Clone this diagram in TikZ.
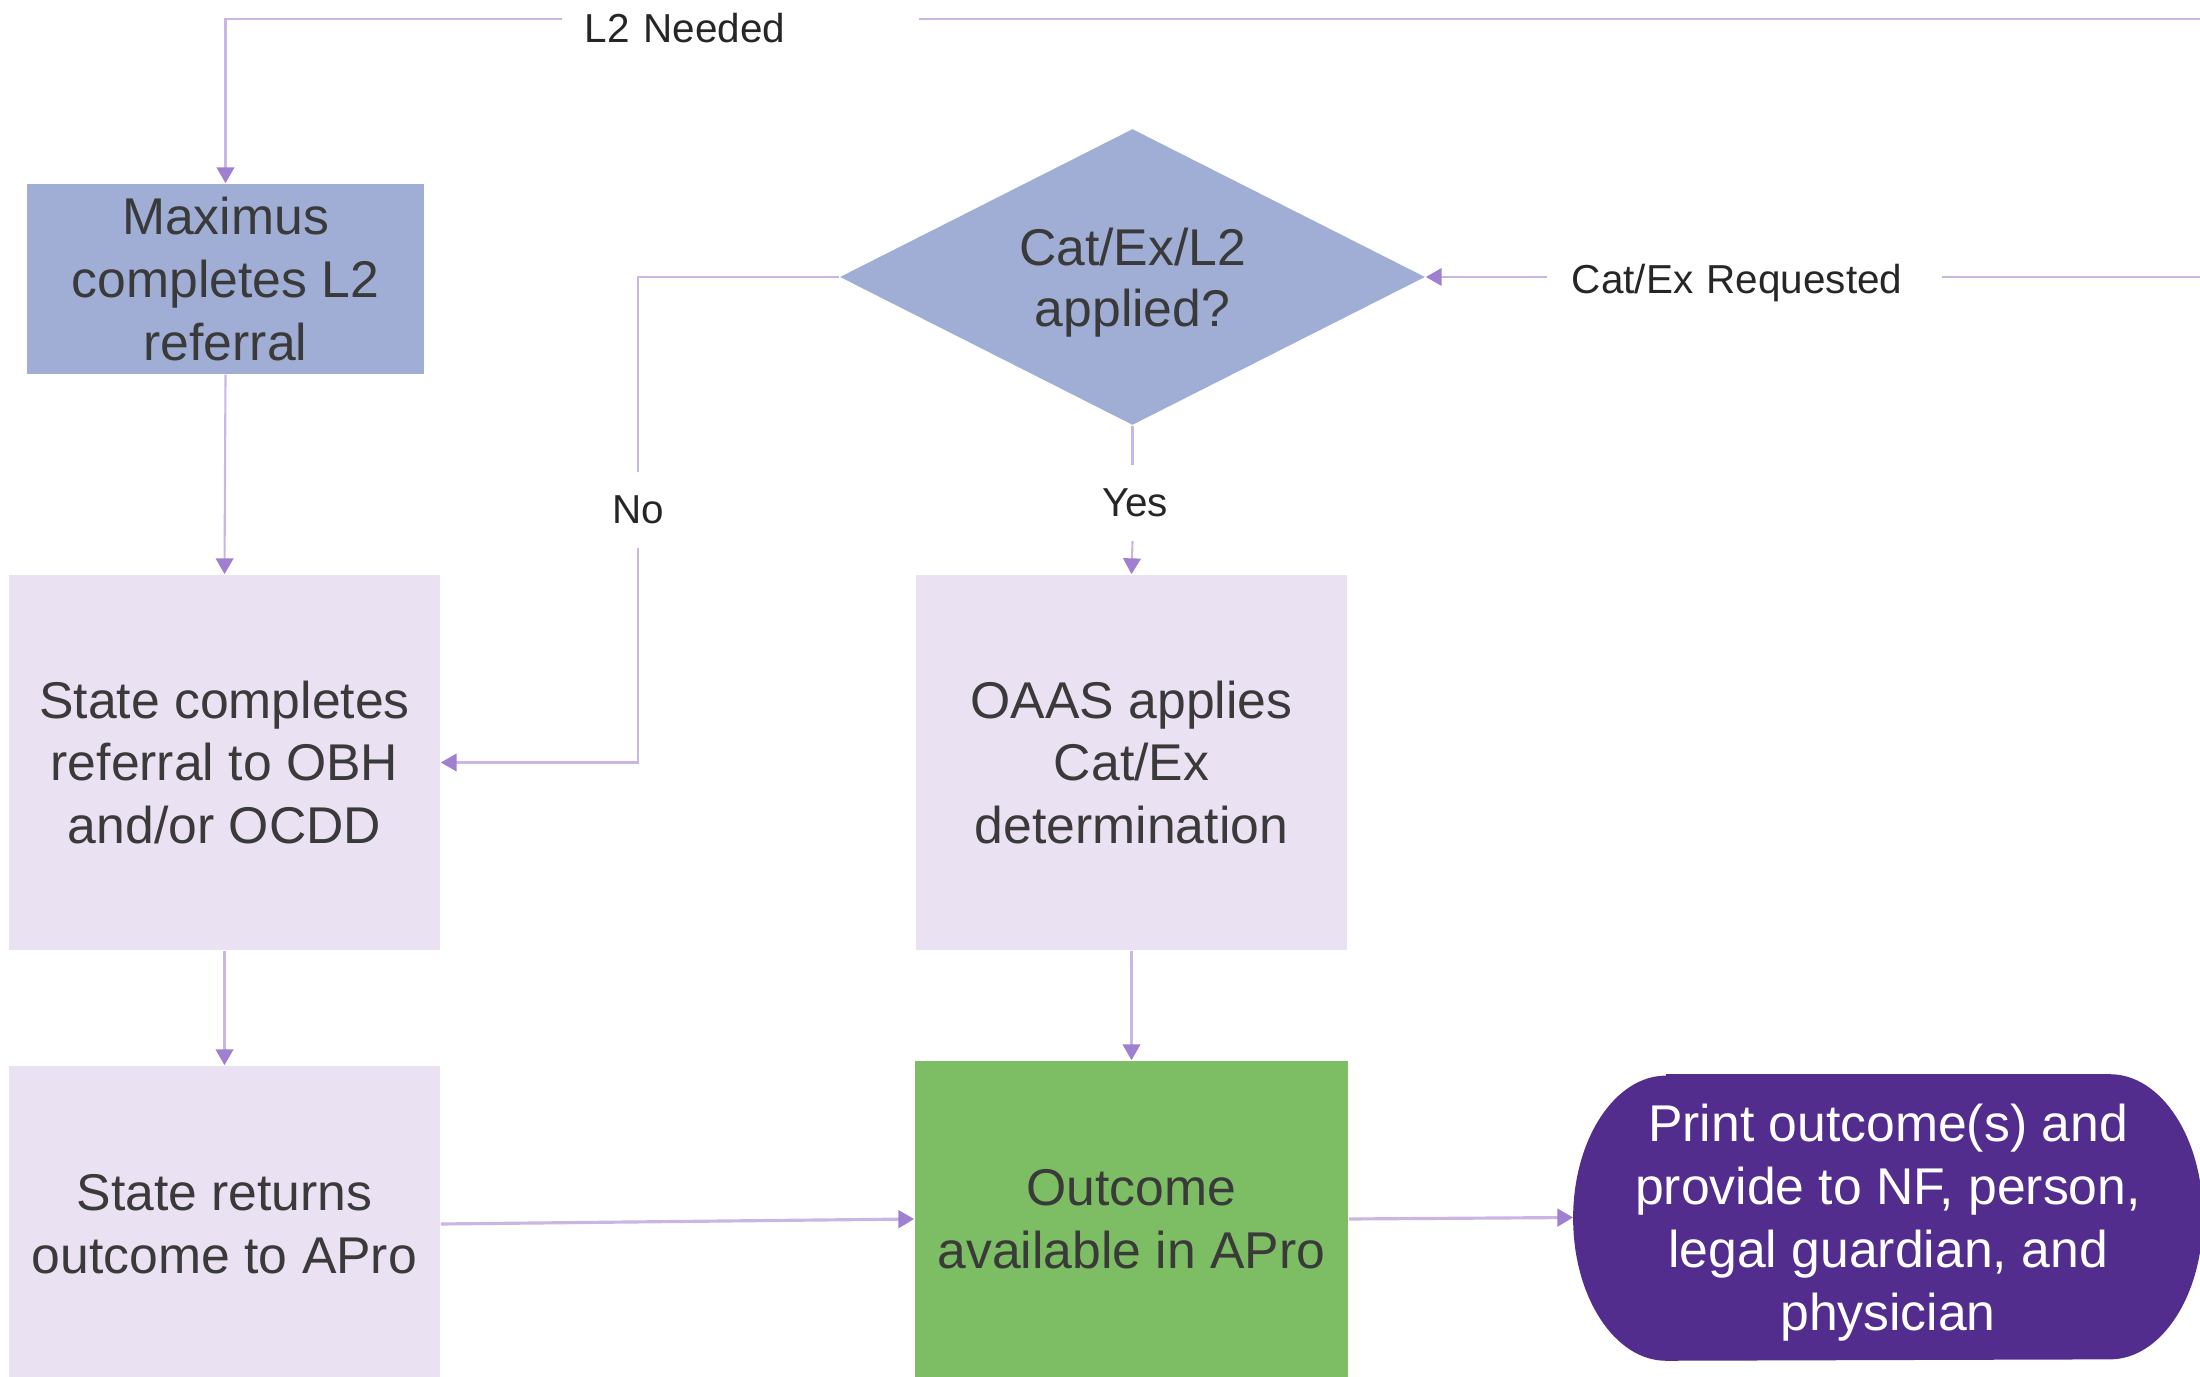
\documentclass[tikz,border=0pt]{standalone}
\usepackage{fontspec}
\setmainfont{Liberation Sans}
\usetikzlibrary{arrows.meta,shapes.geometric,backgrounds}

\definecolor{boxblue}{HTML}{A0AED6}
\definecolor{boxlav}{HTML}{EAE1F3}
\definecolor{boxgreen}{HTML}{7DBD63}
\definecolor{boxpurple}{HTML}{522D8D}
\definecolor{linelav}{HTML}{C9B6E3}
\definecolor{tiplav}{HTML}{9E7FD0}
\definecolor{txtgray}{HTML}{3A3A3A}

\tikzset{
  box/.style={rectangle, inner sep=0pt, align=center, text=txtgray,
    font=\fontsize{14.7}{17.9}\selectfont},
  decision/.style={diamond, aspect=2, inner sep=0pt, fill=boxblue, align=center,
    text=txtgray, text depth=0pt, font=\fontsize{14.7}{17.4}\selectfont},
  lbl/.style={inner sep=0pt, text=black!85, font=\fontsize{11.5}{13.8}\selectfont},
  line/.style={draw=linelav, line width=0.6pt},
  arrow/.style={line, -{Triangle[width=5pt,length=4.5pt,color=tiplav]}},
}

\begin{document}
\begin{tikzpicture}[x=0.01cm,y=-0.01cm]
\useasboundingbox (0,0) rectangle (2200,1377);
\clip (0,0) rectangle (2200,1377);

% Process boxes
\node[box,fill=boxblue,minimum width=3.97cm,minimum height=1.90cm] (max) at (225.5,279) {Maximus\\completes L2\\referral};
\node[box,fill=boxlav,minimum width=4.31cm,minimum height=3.75cm] (stc) at (224.5,762.5) {State completes\\referral to OBH\\and/or OCDD};
\node[box,fill=boxlav,minimum width=4.31cm,minimum height=3.16cm] (str) at (224.5,1224) {State returns\\outcome to APro};
\node[box,fill=boxlav,minimum width=4.31cm,minimum height=3.75cm] (oaas) at (1131.5,762.5) {OAAS applies\\Cat/Ex\\determination};
\node[box,fill=boxgreen,minimum width=4.33cm,minimum height=3.16cm] (out) at (1131.5,1219) {Outcome\\available in APro};

% Decision
\node[decision,minimum width=5.85cm,minimum height=2.96cm] (dia) at (1132.5,277) {Cat/Ex/L2\\applied?};

% Terminal
\node[box,text=white,text depth=0pt,minimum width=6.28cm,minimum height=2.85cm] (print) at (1888,1217.5) {Print outcome(s) and\\provide to NF, person,\\legal guardian, and\\physician};
\begin{scope}[on background layer]
\fill[boxpurple] ([xshift=0.93cm]print.north west) -- ([xshift=-0.93cm]print.north east)
  arc[start angle=90,end angle=-90,x radius=0.93cm,y radius=1.425cm]
  -- ([xshift=0.93cm]print.south west)
  arc[start angle=270,end angle=90,x radius=0.93cm,y radius=1.425cm] -- cycle;
\end{scope}

% Labels on connectors
\node[lbl,text width=3.11cm,align=left,inner xsep=0.22cm] (l2lbl) at (740.5,28) {L2 Needed};
\node[lbl,text width=3.45cm,align=left,inner xsep=0.24cm] (catlbl) at (1744.5,283) {Cat/Ex Requested};
\node[lbl,minimum height=0.74cm] (nolbl) at (638,510) {No};
\node[lbl,minimum height=0.75cm] (yeslbl) at (1135,503) {Yes};

% Incoming lines from the right
\coordinate (l2src) at (2210,19);
\coordinate (catsrc) at (2210,277);
\draw[line] (l2src) -- (l2src -| l2lbl.east);
\draw[arrow] (l2src -| l2lbl.west) -| (max.north);
\draw[line] (catsrc) -- (catsrc -| catlbl.east);
\draw[arrow] (catsrc -| catlbl.west) -- (dia.east);

% Decision branches
\draw[line] (dia.west) -| (nolbl.north);
\draw[arrow] (nolbl.south) |- (stc.east);
\draw[line] (dia.south) -- (dia.south |- yeslbl.north);
\draw[arrow] (dia.south |- yeslbl.south) -- (oaas.north);

% Flow
\draw[arrow] (max.south) -- (stc.north);
\draw[arrow] (stc.south) -- (str.north);
\draw[arrow] (oaas.south) -- (out.north);
\draw[arrow,line width=0.9pt] (str.east) -- (out.west);
\draw[arrow,line width=0.9pt] (out.east) -- (print.west);
\end{tikzpicture}
\end{document}
